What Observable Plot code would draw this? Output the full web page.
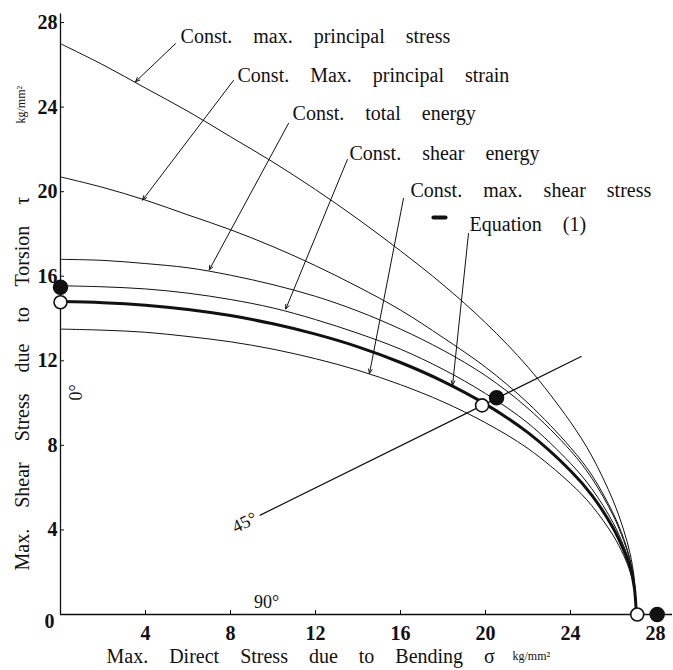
<!DOCTYPE html>
<html><head><meta charset="utf-8">
<script src="https://cdn.jsdelivr.net/npm/d3@7"></script>
<script src="https://cdn.jsdelivr.net/npm/@observablehq/plot@0.6"></script>
<style>
html,body{margin:0;padding:0;background:#fff;}
#chart svg text{word-spacing:16px;}
</style></head><body><div id="chart"></div>
<script>
// Bending stress sigma (kg/mm^2) at which the curves were read
const sigma = [0,2,4,6,8,10,12,14,16,18,20,22,24,25,26,26.5,26.8,27.0,27.1];
// Torsion shear stress tau (kg/mm^2)
const maxPrincipalStress = [27.0,26.0,24.9,23.8,22.6,21.4,20.1,18.7,17.2,15.6,13.8,11.7,9.1,7.5,5.4,4.0,2.9,1.7,0];
const maxPrincipalStrain = [20.7,20.2,19.6,18.9,18.2,17.4,16.5,15.5,14.4,13.1,11.7,10.0,7.9,6.6,4.8,3.6,2.6,1.5,0];
const totalEnergy        = [16.8,16.75,16.6,16.4,16.05,15.6,15.05,14.35,13.5,12.5,11.3,9.75,7.75,6.45,4.7,3.5,2.55,1.5,0];
const shearEnergy        = [15.55,15.5,15.4,15.2,14.9,14.5,13.95,13.3,12.55,11.6,10.45,9.05,7.15,5.95,4.35,3.25,2.4,1.4,0];
const equation1          = [14.8,14.75,14.63,14.43,14.14,13.75,13.26,12.66,11.92,11.03,9.95,8.6,6.8,5.65,4.1,3.05,2.25,1.3,0];
const maxShearStress     = [13.5,13.45,13.35,13.15,12.9,12.55,12.1,11.55,10.87,10.06,9.07,7.85,6.2,5.15,3.75,2.8,2.05,1.2,0];

// Annotation labels and leader arrows
const labelTexts = ["Const. max. principal stress","Const. Max. principal strain","Const. total energy","Const. shear energy","Const. max. shear stress","Equation (1)"];
const labelSigma = [5.65, 8.33, 10.92, 13.6, 16.47, 19.25];
const labelTau   = [27.05, 25.2, 23.37, 21.52, 19.75, 18.16];
const arrowSigma1 = [5.41, 8.14, 10.73, 13.5, 16.14, 19.2];
const arrowTau1   = [27.0, 25.26, 23.23, 21.52, 19.68, 18.02];
const arrowSigma2 = [3.53, 3.86, 7.0, 10.6, 14.54, 18.45];
const arrowTau2   = [25.2, 19.6, 16.3, 14.45, 11.4, 10.85];

// Loading-angle annotations
const angleLabels = ["0°","45°","90°"];
const angleSigma  = [0.75, 8.66, 9.7];
const angleTau    = [10.5, 4.35, 0.57];
const angleRotate = [-90, -26, 0];
const ratioLineSigma = [9.4, 24.5];
const ratioLineTau   = [4.7, 12.2];
const eqDashSigma = [17.55, 18.12];
const eqDashTau   = [18.78, 18.78];

// Experimental points
const filledSigma = [0, 20.52, 28.08];
const filledTau   = [15.48, 10.25, 0];
const openSigma   = [0, 19.84, 27.14];
const openTau     = [14.77, 9.89, 0];

const xTicks = [4,8,12,16,20,24,28];
const yTicks = [4,8,12,16,20,24,28];

const thinCurves = [maxPrincipalStress, maxPrincipalStrain, totalEnergy, shearEnergy, maxShearStress];
const thinRows = thinCurves.flatMap((vals, k) => vals.map((t, i) => ({k, s: sigma[i], t})));
const boldRows = equation1.map((t, i) => ({s: sigma[i], t}));
const idx6 = d3.range(labelTexts.length);
const idx3 = d3.range(angleLabels.length);
const pts = d3.range(filledSigma.length);

const ink = "#111";
const plot = Plot.plot({
  width: 673, height: 670,
  marginLeft: 60, marginRight: 1, marginTop: 13.6, marginBottom: 56,
  style: {fontFamily: "'Liberation Serif', 'Times New Roman', serif", fontSize: "20px", color: ink, background: "#fff"},
  x: {domain: [0, 28.8], axis: null},
  y: {domain: [0, 28.4], axis: null},
  marks: [
    Plot.ruleY([0], {stroke: ink, strokeWidth: 1.3}),
    Plot.ruleX([0], {stroke: ink, strokeWidth: 1.3}),
    Plot.axisX({ticks: xTicks, tickSize: 4, dy: -4, text: null, label: null, stroke: ink}),
    Plot.axisY({ticks: yTicks, tickSize: 4, dx: 4, text: null, label: null, stroke: ink}),
    Plot.axisX({ticks: xTicks, tickSize: 0, tickPadding: 11, label: null, fontSize: 20, fontWeight: "bold", tickFormat: d => String(d)}),
    Plot.axisY({ticks: yTicks, tickSize: 0, tickPadding: 3, label: null, fontSize: 20, fontWeight: "bold", tickFormat: d => String(d)}),
    Plot.text(["0"], {frameAnchor: "bottom-left", dx: -16, dy: 13, fontSize: 20, fontWeight: "bold"}),
    Plot.line(thinRows, {x: "s", y: "t", z: "k", curve: "catmull-rom", stroke: ink, strokeWidth: 1}),
    Plot.line(boldRows, {x: "s", y: "t", curve: "catmull-rom", stroke: ink, strokeWidth: 3}),
    Plot.line(ratioLineSigma.map((s, i) => ({s, t: ratioLineTau[i]})), {x: "s", y: "t", stroke: ink, strokeWidth: 1.2}),
    Plot.line(eqDashSigma.map((s, i) => ({s, t: eqDashTau[i]})), {x: "s", y: "t", stroke: ink, strokeWidth: 4}),
    Plot.arrow(idx6, {x1: i => arrowSigma1[i], y1: i => arrowTau1[i], x2: i => arrowSigma2[i], y2: i => arrowTau2[i], stroke: ink, strokeWidth: 1, headLength: 7, headAngle: 45}),
    Plot.text(idx6, {x: i => labelSigma[i], y: i => labelTau[i], text: i => labelTexts[i], textAnchor: "start", lineAnchor: "bottom", fontSize: 20, fill: ink}),
    Plot.text(idx3, {x: i => angleSigma[i], y: i => angleTau[i], text: i => angleLabels[i], rotate: i => angleRotate[i], fontSize: 18, fill: ink}),
    Plot.dot(pts, {x: i => openSigma[i], y: i => openTau[i], r: 6.5, fill: "#fff", stroke: ink, strokeWidth: 1.6}),
    Plot.dot(pts, {x: i => filledSigma[i], y: i => filledTau[i], r: 7, fill: ink, stroke: ink}),
    Plot.text(["Max. Direct Stress due to Bending σ"], {frameAnchor: "bottom-left", dx: 46, dy: 48, textAnchor: "start", lineAnchor: "bottom", fontSize: 20, fill: ink}),
    Plot.text(["kg/mm²"], {frameAnchor: "bottom-left", dx: 452, dy: 45, textAnchor: "start", lineAnchor: "bottom", fontSize: 12, fill: ink}),
    Plot.text(["Max. Shear Stress due to Torsion τ"], {frameAnchor: "bottom-left", dx: -38, dy: -44, rotate: -90, textAnchor: "start", lineAnchor: "middle", fontSize: 20, fill: ink}),
    Plot.text(["kg/mm²"], {frameAnchor: "bottom-left", dx: -39, dy: -491, rotate: -90, textAnchor: "start", lineAnchor: "middle", fontSize: 12, fill: ink})
  ]
});
document.getElementById("chart").appendChild(plot);
</script></body></html>
